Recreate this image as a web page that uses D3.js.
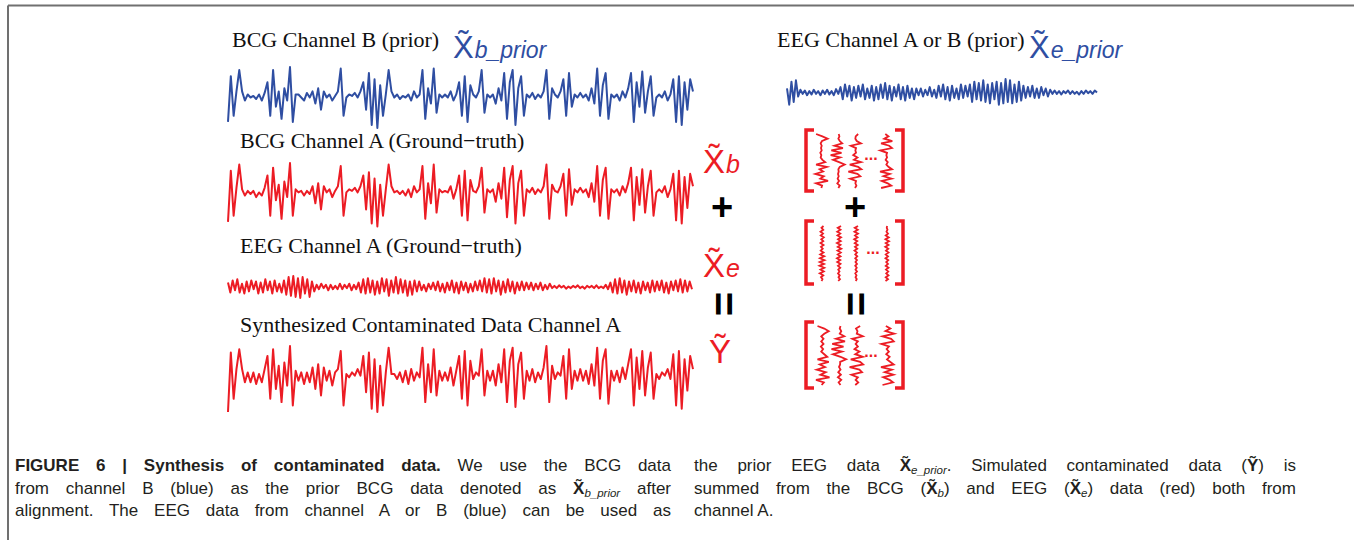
<!DOCTYPE html>
<html>
<head>
<meta charset="utf-8">
<script src="https://cdn.jsdelivr.net/npm/d3@7"></script>
<style>
  body { margin: 0; background: #fff; }
  #fig { position: relative; width: 1354px; height: 540px; overflow: hidden; }
  .cap { position: absolute; font-family: "Liberation Sans Narrow", "Liberation Sans", sans-serif;
         font-size: 17px; line-height: 22.5px; color: #231f20; }
  .cap div { text-align: justify; text-align-last: justify; }
  .cap div.last { text-align-last: left; }
  .cap sub { font-size: 11.5px; font-style: italic; vertical-align: -3px; line-height: 0; }
</style>
</head>
<body>
<div id="fig">
  <div id="chart"></div>
  <div class="cap" style="left:15px; top:455px; width:656px;">
    <div><b>FIGURE 6 | Synthesis of contaminated data.</b> We use the BCG data</div>
    <div>from channel B (blue) as the prior BCG data denoted as <b>X&#771;</b><sub>b_prior</sub> after</div>
    <div>alignment. The EEG data from channel A or B (blue) can be used as</div>
  </div>
  <div class="cap" style="left:694px; top:455px; width:602px;">
    <div>the prior EEG data <b>X&#771;</b><sub>e_prior</sub>. Simulated contaminated data (<b>Y&#771;</b>) is</div>
    <div>summed from the BCG (<b>X&#771;</b><sub>b</sub>) and EEG (<b>X&#771;</b><sub>e</sub>) data (red) both from</div>
    <div class="last">channel A.</div>
  </div>
</div>
<script>
// ---- data (amplitudes normalised to -1..1) ----
const traceTitles = [
  "BCG Channel B (prior)",
  "BCG Channel A (Ground\u2212truth)",
  "EEG Channel A (Ground\u2212truth)",
  "Synthesized Contaminated Data Channel A",
  "EEG Channel A or B (prior)"
];

const bcgPriorB = [-0.8, 0.7, -0.6, 0.2, 0.9,
  0.2, -0.1, 0.1, 0.0, 0.05, -0.05, 0.1, -0.1, 0.15,
  0.5, -0.6, 0.9, -0.3, 0.2, -0.7, 0.3, -0.1, 1.0, -0.8, 0.1,
  0.1, 0.0, -0.1, 0.15, 0.0, 0.2, -0.2, 0.3, -0.4, 0.2, 0.0, 0.1, -0.1, 0.05, 0.2,
  0.95, -0.6,
  0.0, 0.1, 0.05, 0.15, 0.0, 0.2,
  0.5, -0.4, 0.8, -0.9, 0.6, -1.0, 0.4, -0.6,
  0.1, 0.9, 0.2,
  0.0, 0.1, -0.05, 0.05, 0.0, 0.1, -0.1, 0.2, 0.0, 0.1,
  0.9, -0.7, 0.3, -0.2, 0.95, -0.5, 0.1,
  0.0, 0.1, 0.0, 0.2, -0.1, 0.1,
  0.5, -0.6, 0.7, -0.8, 0.4,
  0.1, 0.0, 0.2, 0.9,
  -0.5, 0.1, 0.0, 0.1, -0.2, 0.3, -0.1,
  0.8, -0.7, 0.5, 0.9, -0.9, 0.3, 0.7, -0.6,
  0.1, 0.0, 0.15, -0.05, 0.1, 0.0, 0.2,
  0.9, -0.7, 0.3,
  0.1, 0.0, 0.2, 0.6,
  -0.6, 0.8, -0.3,
  0.1, 0.0, 0.15, 0.0, 0.1, -0.1, 0.3, -0.2,
  0.95, -0.6, 0.4, 0.8, -0.7,
  0.1, 0.0, 0.1, -0.1, 0.2, 0.0, 0.3,
  0.8, -0.8, 0.5, -0.3, 0.85, -0.5, 0.2, 0.7, -0.6,
  0.0, 0.1, 0.0, 0.2, -0.1, 0.1,
  0.6, -0.8, 0.7, -0.9, 0.5, -0.4, 0.6, 0.2];

const bcgTruthA = [-0.9, 0.75, -0.7, 0.2, 0.95,
  0.15, -0.05, 0.1, 0.0, 0.1, -0.1, 0.05, -0.05, 0.2,
  0.6, -0.7, 0.85, -0.2, 0.3, -0.8, 0.4, -0.1, 1.0, -0.7, 0.15,
  0.05, 0.1, -0.05, 0.1, 0.0, 0.25, -0.3, 0.35, -0.5, 0.25, 0.05, 0.15, -0.1, 0.1, 0.25,
  0.9, -0.7,
  0.05, 0.15, 0.1, 0.2, 0.05, 0.25,
  0.6, -0.5, 0.7, -0.95, 0.5, -1.05, 0.3, -0.7,
  0.15, 0.95, 0.25,
  0.05, 0.1, 0.0, 0.1, -0.05, 0.15, -0.1, 0.25, 0.05, 0.15,
  0.9, -0.8, 0.35, -0.3, 0.95, -0.6, 0.15,
  0.05, 0.1, 0.05, 0.25, -0.15, 0.15,
  0.6, -0.7, 0.75, -0.85, 0.45,
  0.1, 0.05, 0.25, 0.85,
  -0.6, 0.15, 0.05, 0.15, -0.25, 0.35, -0.15,
  0.85, -0.75, 0.45, 0.9, -0.95, 0.35, 0.75, -0.7,
  0.15, 0.05, 0.2, 0.0, 0.15, 0.05, 0.25,
  0.95, -0.8, 0.3,
  0.1, 0.05, 0.25, 0.65,
  -0.7, 0.8, -0.35,
  0.15, 0.05, 0.2, 0.05, 0.15, -0.1, 0.35, -0.25,
  0.9, -0.7, 0.45, 0.85, -0.8,
  0.15, 0.05, 0.15, -0.05, 0.25, 0.05, 0.35,
  0.85, -0.85, 0.55, -0.35, 0.8, -0.6, 0.25, 0.75, -0.7,
  0.05, 0.15, 0.05, 0.25, -0.1, 0.15,
  0.65, -0.85, 0.75, -0.95, 0.55, -0.45, 0.65, 0.25];

const eegTruthA = [0.4, -0.5, 0.6, -0.3, 0.7, -0.5, 0.3, -0.6, 0.5, -0.4, 0.6, -0.2, 0.5, -0.6, 0.4, -0.5, 0.7, -0.3, 0.5, -0.6, 0.6, -0.4, 0.3, -0.5, 0.6,
  -0.7, 0.9, -0.8, 1.0, -0.9, 0.8, -1.0, 0.9, -0.6, 0.7, -0.9, 0.5, -0.4,
  0.2, -0.2, 0.3, -0.1, 0.2, -0.3, 0.2, -0.2, 0.1, -0.2, 0.3, -0.2, 0.2, -0.1, 0.3, -0.3, 0.2, -0.2, 0.4,
  -0.5, 0.7, -0.6, 0.8, -0.5, 0.6, -0.7, 0.5, -0.6, 0.8, -0.4, 0.7, -0.8, 0.6, -0.5, 0.9, -0.6, 0.7, -0.5, 0.6, -0.8, 0.5, -0.7, 0.6, -0.4, 0.5,
  -0.3, 0.2, -0.4, 0.3, -0.2, 0.4, -0.3, 0.5, -0.4, 0.3, -0.5, 0.4, -0.3, 0.6, -0.5, 0.4, -0.6, 0.5, -0.3, 0.4, -0.5, 0.3, -0.4, 0.5, -0.3, 0.6,
  -0.4, 0.8, -0.5, 0.7, -0.6, 0.8, -0.4, 0.6, -0.7, 0.5, -0.5, 0.7, -0.4, 0.5, -0.6, 0.4, -0.3,
  0.5, -0.3, 0.4, -0.2, 0.4, -0.3, 0.3, -0.2, 0.4, -0.3, 0.2, -0.2, 0.3, -0.1,
  0.1, -0.1, 0.15, -0.05, 0.1, -0.15, 0.05, -0.1, 0.1, -0.05, 0.15, -0.1, 0.05, -0.15, 0.1, -0.05, 0.1, -0.1, 0.15, -0.1, 0.05, -0.1, 0.2, -0.2,
  0.4, -0.5, 0.7, -0.6, 0.8, -0.5, 0.6, -0.7, 0.5, -0.4, 0.6, -0.5, 0.4, -0.6, 0.5, -0.3, 0.4, -0.5, 0.6,
  -0.4, 0.5, -0.3, 0.6, -0.5, 0.4, -0.6, 0.5, -0.3, 0.6, -0.4, 0.7, -0.5, 0.6, -0.4, 0.5, -0.2];

const synthA = [-1.0, 0.8, -0.6, 0.3, 0.9,
  0.3, -0.1, 0.2, -0.1, 0.2, -0.15, 0.15, -0.1, 0.3,
  0.7, -0.6, 0.9, -0.3, 0.4, -0.7, 0.5, -0.2, 1.0, -0.8, 0.25,
  -0.05, 0.2, -0.15, 0.2, -0.1, 0.35, -0.3, 0.45, -0.5, 0.35, -0.05, 0.25, -0.2, 0.2, 0.3,
  0.85, -0.8,
  0.15, 0.05, 0.2, 0.1, 0.3, 0.1,
  0.7, -0.4, 0.8, -0.9, 0.6, -1.0, 0.4, -0.8,
  0.2, 0.95, 0.15,
  0.15, 0.0, 0.2, -0.1, 0.25, -0.15, 0.3, -0.05, 0.2, 0.05,
  0.95, -0.7, 0.45, -0.4, 0.9, -0.5, 0.25,
  -0.05, 0.2, -0.05, 0.35, -0.2, 0.25,
  0.7, -0.6, 0.85, -0.8, 0.55,
  0.0, 0.2, 0.1, 0.9,
  -0.5, 0.25, -0.05, 0.25, -0.2, 0.45, -0.1,
  0.9, -0.7, 0.55, 0.95, -0.85, 0.45, 0.8, -0.6,
  0.25, -0.05, 0.3, -0.1, 0.2, 0.0, 0.35,
  1.0, -0.7, 0.4,
  0.0, 0.2, 0.1, 0.7,
  -0.6, 0.9, -0.3,
  0.25, -0.05, 0.3, -0.05, 0.25, -0.15, 0.45, -0.2,
  0.95, -0.6, 0.55, 0.9, -0.75,
  0.25, -0.05, 0.25, -0.1, 0.35, 0.0, 0.45,
  0.9, -0.8, 0.65, -0.3, 0.85, -0.5, 0.35, 0.8, -0.6,
  0.15, 0.0, 0.2, 0.1, 0.3, 0.0,
  0.75, -0.8, 0.85, -0.9, 0.6, -0.35, 0.7, 0.3];

const eegPrior = [0.3, -0.9, 0.8, -0.7, 0.9,
  -0.3, 0.2, -0.1, 0.15, -0.2, 0.1, -0.15, 0.2, -0.1, 0.1, -0.2, 0.15, -0.1, 0.2, -0.15, 0.1, -0.2, 0.25, -0.1,
  0.4, -0.5, 0.6, -0.3, 0.5, -0.6, 0.4, -0.4, 0.5, -0.3, 0.6, -0.5, 0.3, -0.4,
  0.5, -0.6, 0.4, -0.5, 0.6, -0.4, 0.7, -0.5, 0.5, -0.6, 0.4, -0.3, 0.6, -0.5, 0.4, -0.6, 0.5, -0.4, 0.3, -0.5,
  0.3, -0.2, 0.3, -0.3, 0.2, -0.2, 0.4, -0.3, 0.2,
  -0.4, 0.5, -0.3, 0.6, -0.5, 0.4, -0.6, 0.5, -0.4, 0.3, -0.5, 0.6, -0.4, 0.5, -0.3,
  0.6, -0.7, 0.8, -0.5, 0.7, -0.6, 0.9, -0.7, 0.6, -0.8, 0.7, -0.5,
  0.8, -0.9, 0.7, -0.8, 1.0, -0.7, 0.9, -0.8, 0.6, -0.7, 0.8, -0.6, 0.5, -0.4,
  0.4, -0.3, 0.5, -0.4, 0.3, -0.4, 0.4, -0.2, 0.3, -0.3, 0.2,
  -0.1, 0.15, -0.1, 0.1, -0.15, 0.1, -0.05, 0.15, -0.1, 0.1, -0.1, 0.05, -0.15, 0.1, -0.1, 0.15, -0.05, 0.1, -0.1, 0.15, 0.0];

// epochs cut from each channel A trace for the matrix view
const epochStarts = [2, 44, 86, 128];
const epochLength = 24;
const eegEpochStarts = [10, 60, 110, 160];
const eegEpochLength = 30;

// ---- drawing ----
const W = 1354, H = 540;
const red = "#ec1c24", blue = "#2f4ea2";

const svg = d3.select("#chart").append("svg")
  .attr("width", W).attr("height", H)
  .style("position", "absolute").style("left", 0).style("top", 0);

// frame
svg.append("line").attr("x1", 8).attr("x2", W).attr("y1", 5.5).attr("y2", 5.5)
  .attr("stroke", "#707070").attr("stroke-width", 2);
svg.append("line").attr("x1", 8).attr("x2", 8).attr("y1", 5.5).attr("y2", H)
  .attr("stroke", "#707070").attr("stroke-width", 2);

function trace(data, x0, x1, yTop, yBot, color, sw) {
  const x = d3.scaleLinear().domain([0, data.length - 1]).range([x0, x1]);
  const y = d3.scaleLinear().domain([-1, 1]).range([yBot, yTop]);
  svg.append("path").datum(data)
    .attr("d", d3.line().x((d, i) => x(i)).y(d => y(d)))
    .attr("fill", "none").attr("stroke", color)
    .attr("stroke-width", sw).attr("stroke-linejoin", "round");
}

trace(bcgPriorB, 228, 693, 67, 128, blue, 2);
trace(bcgTruthA, 228, 693, 163, 225, red, 2);
trace(eegTruthA, 228, 692, 276, 298, red, 2);
trace(synthA, 228, 693, 346, 412, red, 2);
trace(eegPrior, 787, 1097, 79, 106, blue, 2);

// titles
const titlePos = [[232, 47], [240, 148], [240, 253], [240, 332], [777, 47]];
svg.selectAll("text.title").data(traceTitles).enter().append("text")
  .attr("class", "title")
  .attr("x", (d, i) => titlePos[i][0]).attr("y", (d, i) => titlePos[i][1])
  .attr("font-family", "Liberation Serif, Times New Roman, serif")
  .attr("font-size", 22).attr("fill", "#111")
  .text(d => d);

// X~ symbol (combining tilde) with subscript
function tildeSym(letter, sub, x, y, size, subSize, color) {
  const t = svg.append("text").attr("x", x).attr("y", y).attr("fill", color)
    .attr("font-family", "Liberation Sans, Arial, sans-serif").attr("font-size", size);
  t.append("tspan").text(letter + "\u0303");
  if (sub) {
    t.append("tspan").attr("dx", 1).attr("font-size", subSize)
      .attr("font-style", "italic").text(sub);
  }
}

tildeSym("X", "b_prior", 453, 58, 31, 23, blue);
tildeSym("X", "e_prior", 1029, 58, 31, 23, blue);
tildeSym("X", "b", 703, 173, 33, 25, red);
tildeSym("X", "e", 703, 277, 33, 25, red);
tildeSym("Y", null, 709, 363, 33, 25, red);

// operators
function plus(cx, cy) {
  svg.append("text").attr("x", cx).attr("y", cy + 38 * 0.355)
    .attr("text-anchor", "middle").attr("font-family", "Liberation Sans, Arial, sans-serif")
    .attr("font-weight", "bold").attr("font-size", 38).attr("fill", "#000").text("+");
}
function equalsV(cx, cy) {
  svg.append("g").attr("transform", `translate(${cx},${cy}) rotate(90)`)
    .append("text").attr("y", 42 * 0.34)
    .attr("text-anchor", "middle").attr("font-family", "Liberation Sans, Arial, sans-serif")
    .attr("font-weight", "bold").attr("font-size", 42).attr("fill", "#000").text("=");
}
plus(722, 207); plus(855, 207);
equalsV(723, 304); equalsV(855, 304);

// matrices of epochs
function bracket(x0, x1, y0, y1) {
  const p = d3.path(), s = 8;
  p.moveTo(x0 + s, y0); p.lineTo(x0, y0); p.lineTo(x0, y1); p.lineTo(x0 + s, y1);
  p.moveTo(x1 - s, y0); p.lineTo(x1, y0); p.lineTo(x1, y1); p.lineTo(x1 - s, y1);
  svg.append("path").attr("d", p.toString()).attr("fill", "none")
    .attr("stroke", red).attr("stroke-width", 3.5);
}

function column(data, cx, yTop, yBot, half) {
  const t = d3.scaleLinear().domain([0, data.length - 1]).range([yTop, yBot]);
  const a = d3.scaleLinear().domain([-1, 1]).range([cx - half, cx + half]);
  svg.append("path").datum(data)
    .attr("d", d3.line().x(d => a(d)).y((d, i) => t(i)))
    .attr("fill", "none").attr("stroke", red).attr("stroke-width", 1.8);
}

function dots(cx, cy) {
  svg.append("text").attr("x", cx).attr("y", cy + 2).attr("text-anchor", "middle")
    .attr("font-family", "Liberation Sans, Arial, sans-serif").attr("font-weight", "bold")
    .attr("font-size", 16).attr("fill", red).text("...");
}

const colX = [821, 838, 855, 886];

bracket(806, 903, 130, 191);
epochStarts.forEach((s, k) => column(bcgTruthA.slice(s, s + epochLength), colX[k], 134, 188, 7));
dots(871, 158);

bracket(806, 903, 221, 284);
eegEpochStarts.forEach((s, k) => column(eegTruthA.slice(s, s + eegEpochLength), colX[k] + 1, 226, 281, 2.5));
dots(873, 252);

bracket(806, 903, 322, 388);
epochStarts.forEach((s, k) => column(synthA.slice(s, s + epochLength), colX[k] + 1, 326, 385, 7.5));
dots(871, 355);
</script>
</body>
</html>
